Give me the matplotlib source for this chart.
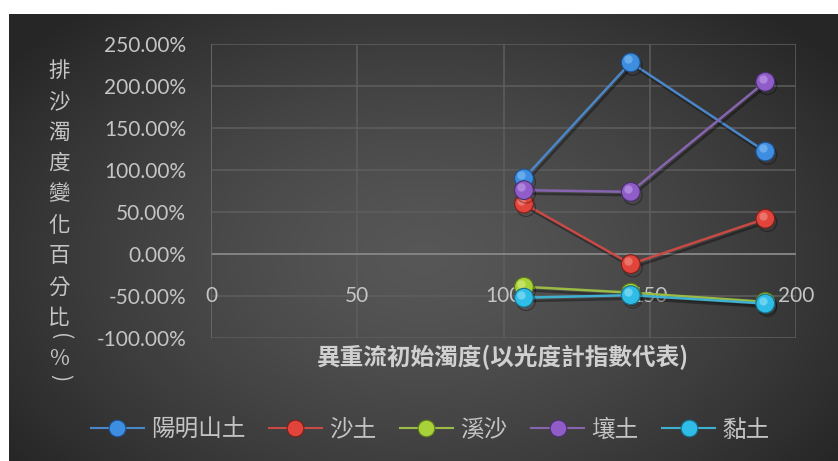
import numpy as np
import matplotlib
matplotlib.use("Agg")
import matplotlib.pyplot as plt
import matplotlib.patheffects as pe
from matplotlib.transforms import offset_copy
from matplotlib.ticker import FuncFormatter

# Initial turbidity (photometer index) and percentage change of outflow turbidity
turbidity = [107, 143.5, 189.5]
series_names = ["陽明山土", "沙土", "溪沙", "壤土", "黏土"]
yangmingshan = [90, 228, 122]
sand = [60, -12, 42]
stream_sand = [-39, -46, -57]
loam = [76, 74, 205]
clay = [-52, -49, -59]
x_ticks = [0, 50, 100, 150, 200]
y_ticks = [-100, -50, 0, 50, 100, 150, 200, 250]

series_values = [yangmingshan, sand, stream_sand, loam, clay]
line_colors = ["#4a86c8", "#c84a45", "#9bbb45", "#8764b0", "#3fb0d0"]
marker_colors = ["#3d8ee0", "#e0443a", "#a8d23a", "#8f5cc8", "#2fbce6"]
marker_edges = ["#1f4f8a", "#7a1f1a", "#5a7a1a", "#4a2f70", "#16708c"]
highlight = ["#8cc4f5", "#f59a90", "#dff08a", "#c7a8ef", "#9ee6fa"]

TEXT = "#c4c4c4"
NUM_FONT = ["Lato", "DejaVu Sans"]
CJK_FONT = ["Noto Sans CJK TC", "DejaVu Sans"]

W, H = 838, 461
fig = plt.figure(figsize=(W / 100, H / 100), dpi=100)
fig.patch.set_facecolor("white")

# radial gradient background panel
bg = fig.add_axes([9 / W, 0, 1 - 9 / W, 1 - 14 / H])
bg.set_axis_off()
gx, gy = np.meshgrid(np.linspace(0, 1, 400), np.linspace(0, 1, 220))
cx, cy = 0.5, 0.45
r = np.sqrt(((gx - cx) / 0.62) ** 2 + ((gy - cy) / 0.75) ** 2)
r = np.clip(r, 0, 1)
val = 0.34 - 0.19 * r ** 1.4
bg.imshow(np.dstack([val, val, val]), extent=[0, 1, 0, 1], aspect="auto",
          origin="lower", interpolation="bilinear")
bg.set_xlim(0, 1)
bg.set_ylim(0, 1)

ax = fig.add_axes([211 / W, (H - 338) / H, 585 / W, 294 / H])
ax.set_facecolor("none")
ax.set_xlim(0, 200)
ax.set_ylim(-100, 250)
ax.set_xticks(x_ticks)
ax.set_yticks(y_ticks)
ax.grid(True, color="#5e5e5e", linewidth=1.1)
ax.set_axisbelow(True)
for s in ax.spines.values():
    s.set_visible(False)
ax.axhline(0, color="#8a8a8a", linewidth=1.2, zorder=1)
ax.axvline(0, color="#6a6a6a", linewidth=1.1, zorder=1)

ax.tick_params(axis="x", length=0, labelbottom=False)
ax.tick_params(axis="y", length=0, colors=TEXT, labelsize=15, pad=18)
ax.yaxis.set_major_formatter(FuncFormatter(lambda v, p: f"{v:.2f}%"))
for lab in ax.get_yticklabels():
    lab.set_fontfamily(NUM_FONT)
    lab.set_color(TEXT)

# horizontal axis numbers sit on the -50% gridline
for xv in x_ticks:
    ax.text(xv, -50, str(xv), ha="center", va="center", color=TEXT,
            fontsize=15, family=NUM_FONT, zorder=2)

shadow = [pe.SimpleLineShadow(offset=(1.5, -2.5), alpha=0.35, shadow_color="black"),
          pe.Normal()]
hl_tr = offset_copy(ax.transData, fig=fig, x=-1.8, y=2.2, units="points")

handles = []
for i, (name, vals) in enumerate(zip(series_names, series_values)):
    ln, = ax.plot(turbidity, vals, color=line_colors[i], linewidth=1.8,
                  marker="o", markersize=13.5, markerfacecolor=marker_colors[i],
                  markeredgecolor=marker_edges[i], markeredgewidth=0.8,
                  zorder=3 + i, label=name, path_effects=shadow)
    ax.plot(turbidity, vals, linestyle="none", marker="o", markersize=6,
            markerfacecolor=highlight[i], markeredgewidth=0, alpha=0.55,
            transform=hl_tr, zorder=3.5 + i)
    handles.append(ln)

leg = fig.legend(handles=handles, labels=series_names, loc="center",
                 bbox_to_anchor=(430 / W, 1 - 430 / H), ncol=5, frameon=False,
                 handlelength=2.25, handletextpad=0.3, columnspacing=1.0,
                 prop={"family": CJK_FONT, "size": 17})
for t in leg.get_texts():
    t.set_color(TEXT)
for h in leg.legend_handles:
    h.set_markersize(12)
    h.set_linewidth(1.5)
    h.set_path_effects([])

# x-axis title
fig.text(503 / W, 1 - 357 / H, "異重流初始濁度(以光度計指數代表)", ha="center",
         va="center", color="#d0d0d0", fontsize=17, family=CJK_FONT,
         fontweight="bold")

# vertical y-axis title, one glyph per row; parentheses turned sideways
title_chars = ["排", "沙", "濁", "度", "變", "化", "百", "分", "比"]
for k, ch in enumerate(title_chars):
    fig.text(59 / W, 1 - (71 + k * 30.9) / H, ch, ha="center", va="center",
             color=TEXT, fontsize=15.5, family=CJK_FONT)
fig.text(60 / W, 1 - 337 / H, "(", ha="center", va="center", rotation=-90,
         color=TEXT, fontsize=15.5, family=CJK_FONT)
fig.text(59 / W, 1 - 359 / H, "%", ha="center", va="center",
         color=TEXT, fontsize=15.5, family=CJK_FONT)
fig.text(60 / W, 1 - 378 / H, ")", ha="center", va="center", rotation=-90,
         color=TEXT, fontsize=15.5, family=CJK_FONT)

fig.savefig("out.png", dpi=100, facecolor=fig.get_facecolor())
